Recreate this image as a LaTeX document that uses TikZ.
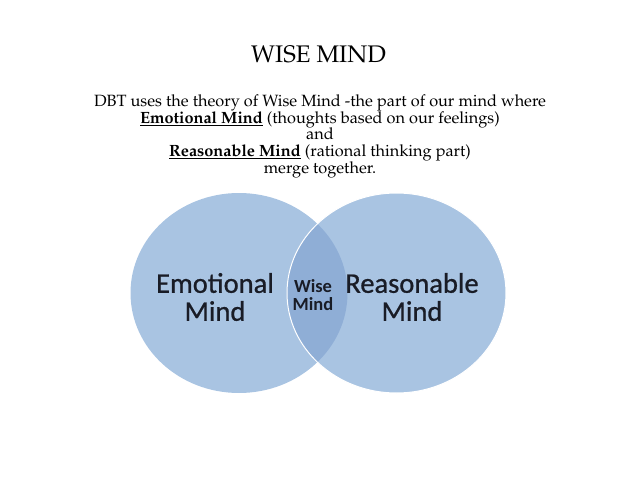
\documentclass[tikz,border=0pt]{standalone}
\usepackage[T1]{fontenc}
\usepackage{fontspec}
\newfontfamily\carlito[FakeBold=0.8]{Carlito}
\newfontfamily\carlitobold{Carlito Bold}
\newcommand\palfont{\fontencoding{T1}\fontfamily{ppl}\selectfont}
\usetikzlibrary{positioning}
\definecolor{mindblue}{RGB}{169,196,226}
\definecolor{wiseblue}{RGB}{143,174,214}
\definecolor{mindink}{RGB}{25,28,38}
\tikzset{
  headtext/.style={font=\palfont\fontsize{24}{29}\selectfont, anchor=base},
  bodytext/.style={font=\palfont\fontsize{16.3}{16.8}\selectfont, align=center, anchor=base},
  mindtext/.style={font=\carlito\fontsize{28.5}{28}\selectfont, align=center, text=mindink},
  wisetext/.style={font=\carlitobold\fontsize{18.5}{18}\selectfont, align=center, text=mindink},
}
\begin{document}
\begin{tikzpicture}[x=1pt, y=-1pt]
\useasboundingbox (0,0) rectangle (638,479);
% title and explanation
\node[headtext] (title) at (318.5,62) {WISE MIND};
\node[bodytext, anchor=north] (intro) at (320,91) {%
  DBT uses the theory of Wise Mind -the part of our mind where\\
  \underline{\textbf{Emotional Mind}} (thoughts based on our feelings)\\
  and\\
  \underline{\textbf{Reasonable Mind}} (rational thinking part)\\
  merge together.};
% the two minds
\fill[mindblue] (239,293) ellipse [x radius=108.5, y radius=100];
\fill[mindblue] (396.5,293) ellipse [x radius=109.5, y radius=100];
% overlap
\begin{scope}
  \clip (239,293) ellipse [x radius=108.5, y radius=100];
  \fill[wiseblue] (396.5,293) ellipse [x radius=109.5, y radius=100];
\end{scope}
\draw[white, line width=1pt] (396.5,293) ellipse [x radius=109.5, y radius=100];
\node[mindtext] (emo) at (215,297) {Emotional\\Mind};
\node[mindtext] (rea) at (412,297) {Reasonable\\Mind};
\node[wisetext] (wise) at (313,295) {Wise\\Mind};
\end{tikzpicture}
\end{document}
